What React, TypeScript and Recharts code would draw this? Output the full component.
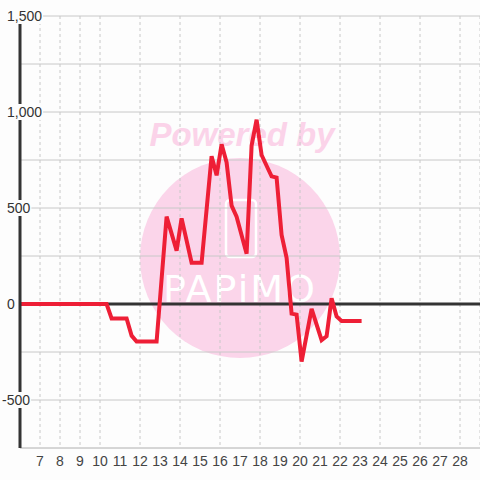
import React from 'react';
import { LineChart, Line, XAxis, YAxis, CartesianGrid, ReferenceLine } from 'recharts';

// hours of the day (15 min samples, corners only)
const times = [
  6, 10.33, 10.58, 11.33, 11.58, 11.83, 12.83, 13.33, 13.83, 14.08, 14.58, 15.08,
  15.58, 15.83, 16.08, 16.33, 16.58, 16.83, 17.33, 17.58, 17.83, 18.08, 18.33, 18.58,
  18.83, 19.08, 19.33, 19.58, 19.83, 20.08, 20.58, 21.08, 21.33, 21.58, 21.83, 22.08, 23.08,
];
const values = [
  0, 0, -75, -75, -165, -195, -195, 455, 278, 446, 215, 215,
  770, 670, 832, 737, 512, 455, 262, 825, 960, 776, 720, 665,
  658, 360, 240, -50, -55, -300, -25, -188, -168, 30, -65, -88, -88,
];
const xTicks = [7, 8, 9, 10, 11, 12, 13, 14, 15, 16, 17, 18, 19, 20, 21, 22, 23, 24, 25, 26, 27, 28];
const yTicks = [-750, -500, -250, 0, 250, 500, 750, 1000, 1250, 1500];

const BG = '#fdfdfd';
const FONT = '"Liberation Sans", Arial, sans-serif';

const data = times.map((t, i) => ({ t, v: values[i] }));

const textWidth = (s: string) =>
  s.split('').reduce((w, c) => w + (c === ',' ? 3.9 : c === '-' ? 4.7 : 7.8), 0);

const YTick = (props: any) => {
  const { y, payload } = props;
  const val = payload.value as number;
  if (val % 500 !== 0) return null;
  const label = val.toLocaleString('en-US');
  const left = val < 0 ? 2 : 7;
  const w = textWidth(label);
  return (
    <g>
      <rect x={left - 1} y={y - 8} width={w + 2} height={16} fill={BG} />
      <text x={left} y={y} dy={5} fill="#333" fontSize={14} fontFamily={FONT} textAnchor="start">
        {label}
      </text>
    </g>
  );
};

const Watermark = () => (
  <svg width={480} height={480} style={{ position: 'absolute', left: 0, top: 0 }}>
    <rect width={480} height={480} fill={BG} />
    <circle cx={240} cy={258} r={100} fill="#fbd5ea" />
    <text
      x={242}
      y={146}
      textAnchor="middle"
      fill="#fbd3e9"
      fontSize={33}
      fontWeight="bold"
      fontStyle="italic"
      fontFamily={FONT}
    >
      Powered by
    </text>
    <rect x={226} y={200} width={30} height={57} rx={4} fill="none" stroke="#fff" strokeWidth={2.5} />
    <text
      x={240}
      y={302}
      textAnchor="middle"
      fill="#fff"
      fontSize={38}
      fontFamily='"DejaVu Sans", sans-serif'
      letterSpacing={2}
    >
      PAPiMO
    </text>
  </svg>
);

export default function App() {
  return (
    <div style={{ position: 'fixed', left: 0, top: 0, width: 480, height: 480, background: BG }}>
      <Watermark />
      <div style={{ position: 'absolute', left: 0, top: 0 }}>
        <LineChart width={480} height={480} data={data} margin={{ top: 16, right: 0, bottom: 0, left: 0 }}>
          <CartesianGrid horizontal={false} vertical stroke="#c8c8c8" strokeDasharray="3 3" />
          <CartesianGrid horizontal vertical={false} stroke="#c8c8c8" />
          <ReferenceLine y={0} stroke="#333" strokeWidth={3} />
          <XAxis
            dataKey="t"
            type="number"
            domain={[6, 29]}
            ticks={xTicks}
            allowDataOverflow
            height={32}
            axisLine={{ stroke: '#c8c8c8' }}
            tickLine={false}
            tick={{ fill: '#444', fontSize: 14, fontFamily: FONT }}
            tickMargin={2}
          />
          <YAxis
            type="number"
            domain={[-750, 1500]}
            ticks={yTicks}
            width={20}
            axisLine={{ stroke: '#333', strokeWidth: 3 }}
            tickLine={false}
            tick={<YTick />}
          />
          <Line
            dataKey="v"
            type="linear"
            stroke="#ee1f36"
            strokeWidth={4}
            dot={false}
            isAnimationActive={false}
          />
        </LineChart>
      </div>
    </div>
  );
}
